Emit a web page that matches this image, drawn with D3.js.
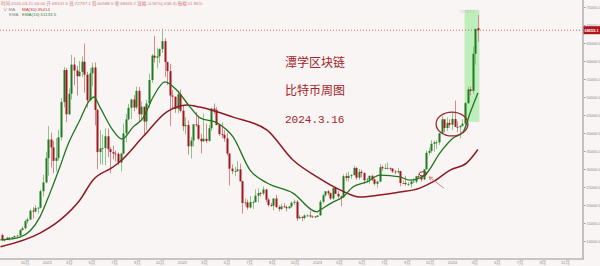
<!DOCTYPE html>
<html>
<head>
<meta charset="utf-8">
<script src="https://cdn.jsdelivr.net/npm/d3@7"></script>
<style>
  html, body { margin: 0; padding: 0; background: #f8f5f4; }
  svg { display: block; }
  text { font-family: "Liberation Sans", "Noto Sans CJK SC", sans-serif; }
</style>
</head>
<body>
<div id="chart"></div>
<script>
// weekly candles [open, high, low, close], one row per week starting 2020-08-31
const ohlc2020 = [
  [11650,12050,9900,10250],[10250,10600,9850,10330],[10330,11180,10200,10930],[10930,10950,10140,10770],
  [10770,10950,10400,11080],[11080,11500,10530,11380],[11380,11720,11200,11500],[11500,13350,11400,13030],
  [13030,14100,12900,13550],[13550,15960,13200,15480],[15480,16480,14850,15970],[15970,18800,15800,18420],
  [18420,19420,16200,18180],[18180,19920,18000,19140],[19140,19400,17600,19250],[19250,24300,19000,23830],
  [23830,28400,22400,26270],[26270,34800,26050,33000]
];
const ohlc2021 = [
  [33000,41950,28100,38200],[38200,40100,30400,36000],[36000,37850,28850,32270],[32270,38600,29250,33100],
  [33100,40950,32300,38800],[38800,49700,37900,48600],[48600,58350,47100,57500],[57500,58100,43000,45200],
  [45200,52400,44950,50900],[50900,61700,49300,59000],[59000,61000,53300,57350],[57350,58600,50400,55800],
  [55800,60000,55600,57000],[57000,61300,55500,59800],[59800,64850,51200,56200],[56200,57000,47050,49100],
  [49100,58000,48800,56600],[56600,59500,53000,58200],[58200,59600,42100,46400],[46400,46700,30000,34700],
  [34700,40800,31300,35700],[35700,39500,31200,35800],[35800,41300,31000,39100],[39100,41300,33300,35500],
  [35500,36000,28800,34700],[34700,36500,32700,34300],[34300,35100,32100,34200],[34200,34600,31100,31800],
  [31800,34500,29300,34300],[34300,42600,34000,39900],[39900,45300,37500,43800],[43800,48100,43500,47000],
  [47000,49500,43900,49300],[49300,50500,46000,47100],[47100,52900,46600,51700],[51700,52800,43000,45200],
  [45200,48800,43400,47300],[47300,47300,39600,43200],[43200,49200,40800,48200],[48200,56500,47000,54700],
  [54700,62000,53900,61500],[61500,67000,59600,60900],[60900,63700,58000,61300],[61300,63500,59400,63300],
  [63300,69000,62300,65500],[65500,66300,55600,59700],[59700,59800,53300,57200],[57200,59200,42000,50400],
  [50400,51900,46800,50100],[50100,50100,45600,46700],[46700,51800,45500,50800],[50800,52100,45700,46200]
];
const ohlc2022 = [
  [46200,47500,40600,41900],[41900,44400,39600,42200],[42200,43500,34000,36300],[36300,38900,32900,37900],
  [37900,42500,36300,42400],[42400,45800,41700,42200],[42200,44800,38000,38400],[38400,39800,34300,37700],
  [37700,45400,37500,38400],[38400,42600,37200,37800],[37800,42300,37600,41300],[41300,47000,40600,46800],
  [46800,48200,45200,46400],[46400,47200,42200,42200],[42200,42400,39200,39700],[39700,42900,38600,39500],
  [39500,40800,37600,38500],[38500,40000,33700,34300],[34300,34400,25400,30100],[30100,31300,28600,29400],
  [29400,30600,28000,29400],[29400,32200,29300,29900],[29900,31500,26500,26600],[26600,26800,17600,20550],
  [20550,21800,19600,20700],[20700,21500,18700,19300],[19300,22500,19000,20800],[20800,21200,18900,20800],
  [20800,24300,20700,22600],[22600,24600,20700,23300],[23300,23600,22400,23200],[23200,25200,22700,24300],
  [24300,24500,20800,21500],[21500,21900,19500,20000],[20000,20600,19500,19800],[19800,21900,18500,21800],
  [21800,22800,19300,19400],[19400,19900,18200,18900],[18900,20400,18500,19600],[19600,20500,19300,19400],
  [19400,19900,18200,19100],[19100,19700,18900,19600],[19600,21000,19200,20600],[20600,21500,20000,20900],
  [20900,21400,15600,16300],[16300,17200,16200,16700],[16700,16800,15500,16400],[16400,17400,16000,17100],
  [17100,17400,16700,17100],[17100,18400,16500,16800],[16800,17100,16400,16800],[16800,16900,16400,16700]
];
const ohlc2023 = [
  [16700,17100,16600,17100],[17100,21400,17100,20900],[20900,23000,20400,22700],[22700,23800,22300,23800],
  [23800,24200,22700,23300],[23300,23400,21400,21800],[21800,25200,21400,24700],[24700,25100,23100,23100],
  [23100,23900,21900,22400],[22400,22600,19600,22100],[22100,28500,21900,28000],[28000,28900,26600,27500],
  [27500,29200,26500,28100],[28100,28600,27200,28300],[28300,30900,28200,30300],[30300,30500,27000,27600],
  [27600,30000,27000,29200],[29200,29800,27700,28900],[28900,29000,25800,26900],[26900,27600,26300,27100],
  [27100,28200,25900,28100],[28100,28400,26600,27100],[27100,27400,25400,25900],[25900,26800,24800,26500],
  [26500,31400,26300,30500],[30500,31000,29500,30200],[30200,31400,29900,30300],[30300,31800,29900,30300],
  [30300,30400,29600,30100],[30100,30300,28900,29300],[29300,29700,28600,29100],[29100,30200,28700,29400],
  [29400,29500,25200,26100],[26100,26800,25800,26100],[26100,28100,25400,25800],[25800,26400,25300,25800],
  [25800,26800,24900,26500],[26500,27400,26300,26500],[26500,28000,26000,27970],[27970,28600,27200,27900],
  [27900,28000,26500,27100],[27100,30000,26900,29900],[29900,35200,29900,34500],[34500,35900,33900,35000],
  [35000,38000,34500,37000],[37000,37900,34800,37400],[37400,38000,35600,37400],[37400,40000,36700,39900],
  [39900,44700,39900,43800],[43800,43800,40200,41400],[41400,44300,40600,42800],[42800,43800,41500,42300]
];
const ohlc2024 = [
  [42300,45900,40800,43900],[43900,49000,41700,41700],[41700,43200,40200,41600],[41600,42100,38500,42000],
  [42000,43800,41800,42600],[42600,48600,42200,48300],[48300,52800,48000,52100],[52100,52900,50500,51700],
  [51700,64000,50900,62000],[62000,69000,59000,68900],[69101.5,72797.1,65300,68555.1]
];

// MA(30) line
const maDates = ['2020-08-28','2020-12-13','2021-02-05','2021-03-31','2021-05-05','2021-06-28','2021-07-17',
  '2021-09-18','2021-11-21','2021-12-18','2022-01-14','2022-02-18','2022-05-19','2022-08-19','2022-10-28',
  '2023-01-01','2023-03-04','2023-04-27','2023-06-20','2023-08-13','2023-10-06','2023-11-10','2023-12-27',
  '2024-02-10','2024-03-11'];
const maValues = [8400,12200,15800,21400,26900,30500,32000,39000,45900,47200,47800,47200,44400,40800,32500,
  27800,24200,22200,22800,23600,24700,26400,29700,31700,35414];

// EMA(10) line
const emaDates = ['2020-08-28','2020-10-20','2020-12-13','2021-01-09','2021-02-05','2021-02-24','2021-03-31',
  '2021-04-27','2021-05-08','2021-05-24','2021-06-28','2021-07-23','2021-08-22','2021-09-18','2021-10-15',
  '2021-11-16','2021-12-18','2022-01-23','2022-02-19','2022-04-06','2022-05-19','2022-07-04','2022-08-19',
  '2022-10-28','2023-01-01','2023-01-09','2023-02-13','2023-03-12','2023-04-08','2023-05-16','2023-06-20',
  '2023-08-13','2023-09-09','2023-10-06','2023-10-25','2023-11-29','2024-01-04','2024-01-31','2024-02-19',
  '2024-03-11'];
const emaValues = [10300,11100,16700,23300,30600,36100,43600,49200,50000,47200,40800,38300,41700,44200,50000,
  54200,51900,47200,44200,42800,38900,29700,26100,23300,18100,18600,20800,22200,25000,26400,28300,
  27800,26900,27500,28900,34400,38600,40300,45600,51133.5];

const yTicks = [10000,15000,20000,25000,30000,35000,40000,45000,50000,55000,60000,65000,70000,75000];
const monthTicks = ['2020-11-01','2021-01-01','2021-03-01','2021-05-01','2021-07-01','2021-09-01','2021-11-01',
  '2022-01-01','2022-03-01','2022-05-01','2022-07-01','2022-09-01','2022-11-01','2023-01-01','2023-03-01',
  '2023-05-01','2023-07-01','2023-09-01','2023-11-01','2024-01-01','2024-03-01','2024-05-01','2024-07-01',
  '2024-09-01','2024-11-01'];

const lastPrice = 68555.1;
const highLabel = '72797.1';

// annotation shapes (date / price corners)
const boxDates = ['2024-02-04', '2024-03-15'];
const boxPrices = [43100, 74200];
const bigEllipseDates = ['2023-11-19', '2024-02-13'];
const bigEllipsePrices = [39200, 45800];
const smallEllipseDates = ['2023-10-04', '2023-10-25'];
const smallEllipsePrices = [28060, 29250];
const arrowDates = ['2023-12-10', '2023-10-31'];
const arrowPrices = [24700, 27800];

const titleLines = ['潭学区块链', '比特币周图', '2024.3.16'];

const width = 600;
const height = 266;
const axisX = 583;
const axisY = 259;

const parse = d3.timeParse('%Y-%m-%d');
const weeks = d3.timeMonday.range(new Date(2020, 7, 31), new Date(2024, 2, 12));
const candles = [...ohlc2020, ...ohlc2021, ...ohlc2022, ...ohlc2023, ...ohlc2024]
  .map((d, i) => ({ date: weeks[i], o: d[0], h: d[1], l: d[2], c: d[3] }));

const x = d3.scaleTime()
  .domain([new Date(2021, 0, 1), new Date(2024, 0, 1)])
  .range([47, 452]);
const y = d3.scaleLinear().domain([10000, 75000]).range([241, 7]);

const svg = d3.select('#chart').append('svg')
  .attr('width', width)
  .attr('height', height);

svg.append('rect').attr('width', width).attr('height', height).attr('fill', '#f8f5f4');

const plot = svg.append('g');
plot.append('clipPath').attr('id', 'clip')
  .append('rect').attr('x', 0).attr('y', 0).attr('width', axisX).attr('height', axisY);
const inner = plot.append('g').attr('clip-path', 'url(#clip)');

// green highlight box
inner.append('rect')
  .attr('x', x(parse(boxDates[0])))
  .attr('y', y(boxPrices[1]))
  .attr('width', x(parse(boxDates[1])) - x(parse(boxDates[0])))
  .attr('height', y(boxPrices[0]) - y(boxPrices[1]))
  .attr('fill', '#bdeebb');

inner.append('text')
  .attr('x', x(parse(boxDates[0])) - 5)
  .attr('y', y(boxPrices[1]) + 3)
  .attr('font-size', 4.2)
  .attr('fill', '#b8c8b8')
  .text(highLabel);

// last price dotted line
inner.append('line')
  .attr('x1', 0).attr('x2', axisX)
  .attr('y1', y(lastPrice)).attr('y2', y(lastPrice))
  .attr('stroke', '#c0474d')
  .attr('stroke-width', 0.8)
  .attr('stroke-dasharray', '1,2');

const upCol = '#217a21';
const downCol = '#a3161c';

const cg = inner.selectAll('g.candle').data(candles).enter().append('g').attr('class', 'candle');
cg.append('line')
  .attr('x1', d => Math.round(x(d.date)) + 0.5)
  .attr('x2', d => Math.round(x(d.date)) + 0.5)
  .attr('y1', d => y(d.h))
  .attr('y2', d => y(d.l))
  .attr('stroke', d => (d.c >= d.o ? '#8cc48c' : '#d7898c'))
  .attr('stroke-width', 1);
cg.append('rect')
  .attr('x', d => Math.round(x(d.date)) - 0.5)
  .attr('y', d => y(Math.max(d.o, d.c)))
  .attr('width', 2)
  .attr('height', d => Math.max(0.8, Math.abs(y(d.o) - y(d.c))))
  .attr('fill', d => (d.c >= d.o ? upCol : downCol));

// indicator lines
const lineGen = d3.line()
  .x(d => x(d[0]))
  .y(d => y(d[1]))
  .curve(d3.curveMonotoneX);

inner.append('path')
  .datum(maDates.map((d, i) => [parse(d), maValues[i]]))
  .attr('d', lineGen)
  .attr('fill', 'none')
  .attr('stroke', '#8e1a22')
  .attr('stroke-width', 1.5);

inner.append('path')
  .datum(emaDates.map((d, i) => [parse(d), emaValues[i]]))
  .attr('d', lineGen)
  .attr('fill', 'none')
  .attr('stroke', '#1f761f')
  .attr('stroke-width', 1.3);

// hand drawn marks
function ellipse(dates, prices, sw) {
  const x0 = x(parse(dates[0]));
  const x1 = x(parse(dates[1]));
  const y0 = y(prices[1]);
  const y1 = y(prices[0]);
  inner.append('ellipse')
    .attr('cx', (x0 + x1) / 2)
    .attr('cy', (y0 + y1) / 2)
    .attr('rx', (x1 - x0) / 2)
    .attr('ry', (y1 - y0) / 2)
    .attr('fill', 'none')
    .attr('stroke', '#9a2a2c')
    .attr('stroke-width', sw);
}
ellipse(bigEllipseDates, bigEllipsePrices, 1.3);
ellipse(smallEllipseDates, smallEllipsePrices, 1);

const ax0 = x(parse(arrowDates[0]));
const ay0 = y(arrowPrices[0]);
const ax1 = x(parse(arrowDates[1]));
const ay1 = y(arrowPrices[1]);
inner.append('line')
  .attr('x1', ax0).attr('y1', ay0).attr('x2', ax1).attr('y2', ay1)
  .attr('stroke', '#c46a6a').attr('stroke-width', 0.8);
const ang = Math.atan2(ay1 - ay0, ax1 - ax0);
inner.append('path')
  .attr('d', `M${ax1},${ay1}L${ax1 - 4 * Math.cos(ang - 0.5)},${ay1 - 4 * Math.sin(ang - 0.5)}M${ax1},${ay1}L${ax1 - 4 * Math.cos(ang + 0.5)},${ay1 - 4 * Math.sin(ang + 0.5)}`)
  .attr('stroke', '#c46a6a').attr('stroke-width', 0.8).attr('fill', 'none');

// title text
const title = svg.append('g').attr('fill', '#a3242a');
title.selectAll('text').data(titleLines).enter().append('text')
  .attr('x', 285)
  .attr('y', (d, i) => 67 + i * 28)
  .attr('font-size', (d, i) => (i < 2 ? 12 : 11))
  .style('font-family', (d, i) => (i < 2 ? '"Noto Sans CJK SC", serif' : '"Liberation Mono", monospace'))
  .text(d => d);

// axes
svg.append('line')
  .attr('x1', 0).attr('x2', axisX + 1)
  .attr('y1', axisY).attr('y2', axisY)
  .attr('stroke', '#b5b5b5').attr('stroke-width', 1.6);
svg.append('line')
  .attr('x1', axisX).attr('x2', axisX)
  .attr('y1', 0).attr('y2', axisY)
  .attr('stroke', '#b5b5b5').attr('stroke-width', 1.6);

const yAxis = svg.append('g')
  .attr('transform', `translate(${axisX + 1},0)`)
  .call(d3.axisRight(y).tickValues(yTicks).tickSize(1.5).tickPadding(1).tickFormat(d3.format('.1f')));
yAxis.select('.domain').remove();
yAxis.selectAll('line').attr('stroke', '#999');
yAxis.selectAll('text').attr('font-size', 3.9).attr('fill', '#8a8a8a').style('font-family', '"Liberation Sans", sans-serif');

svg.append('rect')
  .attr('x', axisX + 0.5).attr('y', y(lastPrice) - 4)
  .attr('width', width - axisX).attr('height', 8)
  .attr('fill', '#b3141c');
svg.append('text')
  .attr('x', axisX + 1.5).attr('y', y(lastPrice) + 1.6)
  .attr('font-size', 3.9).attr('font-weight', 'bold').attr('fill', '#fff')
  .text(d3.format('.1f')(lastPrice));

const xAxis = svg.append('g')
  .attr('transform', `translate(0,${axisY})`)
  .call(d3.axisBottom(x)
    .tickValues(monthTicks.map(parse))
    .tickSize(0)
    .tickPadding(1.8)
    .tickFormat(d => (d.getMonth() === 0 ? d3.timeFormat('%Y')(d) : `${d.getMonth() + 1}月`)));
xAxis.select('.domain').remove();
xAxis.selectAll('text').attr('font-size', 4.2).attr('fill', '#8a8a8a');

// header
const head = svg.append('g').attr('font-size', 4.4);
head.append('text').attr('x', 1).attr('y', 5).attr('fill', '#d27a7a')
  .text('时间:2024-03-11 00:00 开:69101.5 高:72797.1 低:60588.0 收:68555.1 涨幅:-0.92%(-636.4) 振幅:11.85%');
head.append('text').attr('x', 3).attr('y', 10.5).attr('fill', '#888').text('∨  MA');
head.append('text').attr('x', 22).attr('y', 10.5).attr('fill', '#c0404a').text('MA(30):35414');
head.append('text').attr('x', 9).attr('y', 16).attr('fill', '#888').text('EMA');
head.append('text').attr('x', 22).attr('y', 16).attr('fill', '#3a8a3a').text('EMA(10):51133.5');
</script>
</body>
</html>
